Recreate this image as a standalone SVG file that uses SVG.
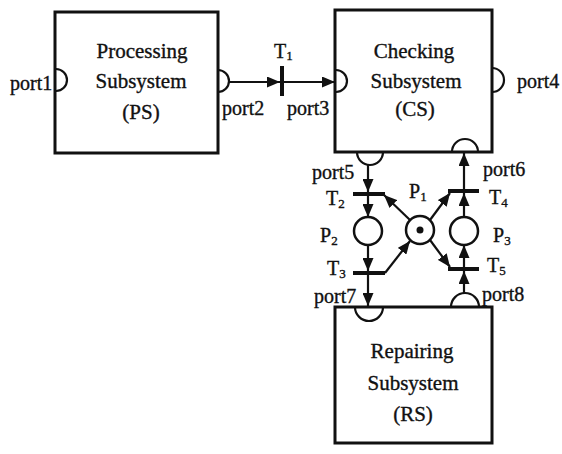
<svg xmlns="http://www.w3.org/2000/svg" width="562" height="454" viewBox="0 0 562 454" font-family="Liberation Serif, DejaVu Serif, serif">
<style>
.box{fill:none;stroke:#111;stroke-width:3}
.port{fill:none;stroke:#111;stroke-width:2.2}
text{fill:#111;stroke:#111;stroke-width:0.35}
.title{font-size:21px;text-anchor:middle}
.lbl{font-size:20px}
.tl{font-size:20px}
.sub{font-size:13px}
.bar{fill:#111}
.place{fill:#fff;stroke:#111;stroke-width:2.5}
.arc{fill:none;stroke:#111;stroke-width:2.2;marker-end:url(#ah)}
</style>
<defs>
<marker id="ah" markerUnits="userSpaceOnUse" markerWidth="13" markerHeight="11" refX="13" refY="5.5" orient="auto">
<path d="M0,0 L13,5.5 L0,11 z" fill="#111"/>
</marker>
</defs>
<rect width="562" height="454" fill="#fff"/>

<g id="PS">
<rect class="box" x="55" y="12" width="163" height="141"/>
<text class="title" x="142" y="58">Processing</text>
<text class="title" x="141" y="88">Subsystem</text>
<text class="title" x="141" y="119">(PS)</text>
<path class="port" d="M56,69 A11,11 0 0 1 56,91"/>
<text class="lbl" x="10" y="90">port1</text>
<path class="port" d="M218,70 A11,11 0 0 1 218,92"/>
<text class="lbl" x="222" y="115">port2</text>
</g>

<g id="CS">
<rect class="box" x="335" y="10" width="157" height="142"/>
<text class="title" x="414" y="58">Checking</text>
<text class="title" x="416" y="88">Subsystem</text>
<text class="title" x="415" y="116">(CS)</text>
<path class="port" d="M336,70 A11,11 0 0 1 336,92"/>
<text class="lbl" x="287" y="115">port3</text>
<path class="port" d="M492,68 A12,12 0 0 1 492,92"/>
<text class="lbl" x="517" y="88">port4</text>
<path class="port" d="M357,152 A13,13 0 0 0 383,152"/>
<text class="lbl" x="312" y="179">port5</text>
<path class="port" d="M452,152 A13,13 0 0 1 478,152"/>
<text class="lbl" x="483" y="176">port6</text>
</g>

<g id="RS">
<rect class="box" x="335" y="307" width="157" height="136"/>
<text class="title" x="412" y="358">Repairing</text>
<text class="title" x="413" y="390">Subsystem</text>
<text class="title" x="413" y="421">(RS)</text>
<path class="port" d="M355,307 A14,14 0 0 0 383,307"/>
<text class="lbl" x="314" y="303">port7</text>
<path class="port" d="M451,307 A14,14 0 0 1 479,307"/>
<text class="lbl" x="482" y="301">port8</text>
</g>

<g id="T1">
<rect class="bar" x="280" y="66" width="4" height="30"/>
<text class="tl" x="274" y="58">T<tspan class="sub" dy="2">1</tspan></text>
</g>
<g id="T2">
<rect class="bar" x="353" y="192" width="32" height="4"/>
<text class="tl" x="326" y="205">T<tspan class="sub" dy="3">2</tspan></text>
</g>
<g id="T3">
<rect class="bar" x="353" y="271" width="32" height="4"/>
<text class="tl" x="327" y="275">T<tspan class="sub" dy="3">3</tspan></text>
</g>
<g id="T4">
<rect class="bar" x="448" y="189" width="31" height="4"/>
<text class="tl" x="489" y="204">T<tspan class="sub" dy="3">4</tspan></text>
</g>
<g id="T5">
<rect class="bar" x="448" y="267" width="31" height="4"/>
<text class="tl" x="487" y="272">T<tspan class="sub" dy="3">5</tspan></text>
</g>

<g id="P1">
<circle class="place" cx="420" cy="230" r="14"/>
<circle cx="420" cy="230" r="3.5" fill="#111"/>
<text class="tl" x="409" y="198">P<tspan class="sub" dy="3">1</tspan></text>
</g>
<g id="P2">
<circle class="place" cx="368" cy="231" r="14"/>
<text class="tl" x="320" y="242">P<tspan class="sub" dy="3">2</tspan></text>
</g>
<g id="P3">
<circle class="place" cx="464" cy="231" r="14"/>
<text class="tl" x="493" y="242">P<tspan class="sub" dy="3">3</tspan></text>
</g>

<g id="connectors">
<path class="arc" d="M229,82 L280,82"/>
<path class="arc" d="M284,82 L335,82"/>
<path class="arc" d="M368,165 L368,192"/>
<path class="arc" d="M368,196 L368,217"/>
<path class="arc" d="M368,245 L368,271"/>
<path class="arc" d="M368,275 L368,306"/>
<path class="arc" d="M410,220 L384,195"/>
<path class="arc" d="M385,273 L410,241"/>
<path class="arc" d="M430,220 L450,193"/>
<path class="arc" d="M430,240 L450,267"/>
<path class="arc" d="M464,217 L464,193"/>
<path class="arc" d="M464,189 L464,153"/>
<path class="arc" d="M464,267 L464,245"/>
<path class="arc" d="M464,293 L464,271"/>
</g>
</svg>
